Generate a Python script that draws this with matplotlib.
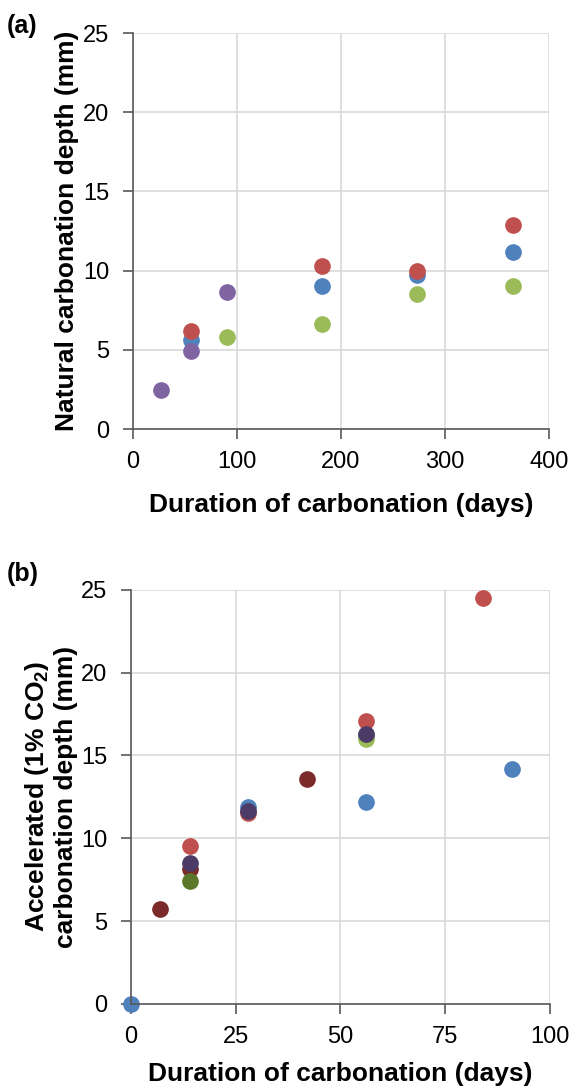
import matplotlib
matplotlib.use("Agg")
import matplotlib.pyplot as plt

plt.rcParams['font.family'] = ['Liberation Sans', 'DejaVu Sans']
plt.rcParams['mathtext.fontset'] = 'custom'
plt.rcParams['mathtext.bf'] = 'Liberation Sans:bold'
plt.rcParams['mathtext.rm'] = 'Liberation Sans:bold'
plt.rcParams['mathtext.default'] = 'bf'

# panel (a) natural carbonation
a_blue_x = [56, 182, 273, 365]
a_blue_y = [5.6, 9.0, 9.75, 11.2]
a_red_x = [56, 182, 273, 365]
a_red_y = [6.2, 10.3, 9.95, 12.85]
a_green_x = [90, 182, 273, 365]
a_green_y = [5.8, 6.65, 8.5, 9.05]
a_purple_x = [27, 56, 90]
a_purple_y = [2.45, 4.9, 8.65]

# panel (b) accelerated carbonation
b_blue_x = [0, 28, 56, 56, 91]
b_blue_y = [0, 11.9, 16.2, 12.2, 14.15]
b_red_x = [14, 28, 56, 84]
b_red_y = [9.55, 11.5, 17.05, 24.5]
b_green_x = [56]
b_green_y = [16.0]
b_darkred_x = [7, 14, 42]
b_darkred_y = [5.7, 8.15, 13.6]
b_olive_x = [14]
b_olive_y = [7.4]
b_darkpurple_x = [14, 28, 56]
b_darkpurple_y = [8.5, 11.65, 16.3]

fig = plt.figure(figsize=(5.73, 10.9), dpi=100)
ax1 = fig.add_axes([0.2321, 0.6064, 0.7260, 0.3633])
ax2 = fig.add_axes([0.2286, 0.0790, 0.7312, 0.3800])

ms = 11

def style(ax, xmax, xstep, xpad):
    ax.set_ylim(0, 25)
    ax.set_xlim(0, xmax)
    ax.set_yticks(range(0, 26, 5))
    ax.set_xticks(range(0, xmax + 1, xstep))
    ax.grid(True, color='#d9d9d9', lw=1.2)
    ax.set_axisbelow(True)
    for s in ['top', 'right']:
        ax.spines[s].set_visible(False)
    for s in ['left', 'bottom']:
        ax.spines[s].set_color('#595959')
        ax.spines[s].set_linewidth(1.2)
    ax.tick_params(direction='out', length=7, width=1.2, color='#595959',
                   labelsize=17)
    ax.tick_params(axis='y', pad=10)
    ax.tick_params(axis='x', pad=9)
    ax.set_xlabel('Duration of carbonation (days)', fontsize=19,
                  fontweight='bold', labelpad=xpad)

ax1.plot(a_blue_x, a_blue_y, 'o', color='#4f81bd', ms=ms, clip_on=False)
ax1.plot(a_red_x, a_red_y, 'o', color='#c0504d', ms=ms, clip_on=False)
ax1.plot(a_green_x, a_green_y, 'o', color='#9bbb59', ms=ms, clip_on=False)
ax1.plot(a_purple_x, a_purple_y, 'o', color='#8064a2', ms=ms, clip_on=False)
style(ax1, 400, 100, 14)
ax1.set_ylabel('Natural carbonation depth (mm)', fontsize=19,
               fontweight='bold', labelpad=3)

ax2.plot(b_blue_x, b_blue_y, 'o', color='#4f81bd', ms=ms, clip_on=False)
ax2.plot(b_red_x, b_red_y, 'o', color='#c0504d', ms=ms, clip_on=False)
ax2.plot(b_green_x, b_green_y, 'o', color='#9bbb59', ms=ms, clip_on=False)
ax2.plot(b_darkred_x, b_darkred_y, 'o', color='#7a2b2a', ms=ms, clip_on=False)
ax2.plot(b_olive_x, b_olive_y, 'o', color='#5b772a', ms=ms, clip_on=False)
ax2.plot(b_darkpurple_x, b_darkpurple_y, 'o', color='#4b3b66', ms=ms, clip_on=False)
style(ax2, 100, 25, 10)
ax2.set_ylabel('Accelerated (1% CO$_2$)\ncarbonation depth (mm)', fontsize=19,
               fontweight='bold', labelpad=2, linespacing=1.2)

fig.text(0.012, 0.987, '(a)', fontsize=18, fontweight='bold', va='top')
fig.text(0.012, 0.484, '(b)', fontsize=18, fontweight='bold', va='top')

fig.savefig('out.png', dpi=100)
